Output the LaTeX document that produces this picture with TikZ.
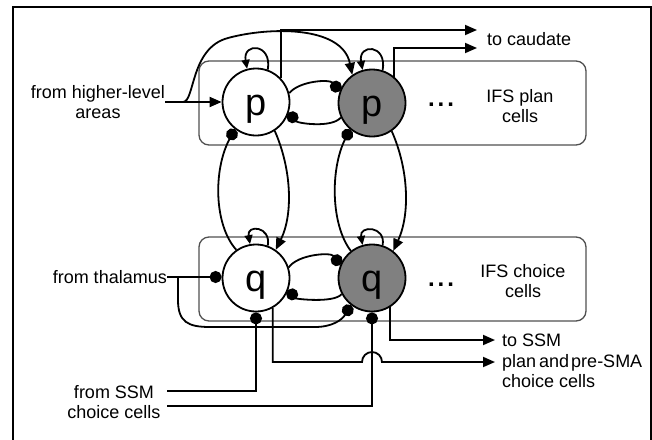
\documentclass[tikz,border=0pt]{standalone}
\usepackage{fontspec}
\setmainfont{Liberation Sans}
\usetikzlibrary{arrows.meta}
\begin{document}
\begin{tikzpicture}[x=1pt,y=-1pt,
  cell/.style={circle, draw, line width=1.8pt, minimum size=67pt, inner sep=0pt, font=\fontsize{38}{40}\selectfont},
  plaincell/.style={cell, fill=white},
  darkcell/.style={cell, fill={rgb,255:red,128;green,128;blue,128}},
  grp/.style={draw={rgb,255:red,80;green,80;blue,80}, line width=1.3pt, rounded corners=10pt, inner sep=0pt},
  lbl/.style={font=\fontsize{18}{20.5}\selectfont, inner sep=0pt},
  ellip/.style={font=\fontsize{24}{24}\bfseries, inner sep=0pt},
  conn/.style={line width=1.8pt},
  exc/.style={conn, -{Triangle[length=12pt,width=10pt]}},
  excs/.style={conn, -{Triangle[length=9pt,width=8pt]}},
  inh/.style={conn, -{Circle[length=12pt]}},
]
\useasboundingbox (0,0) rectangle (652,439);
% outer frame
\draw[line width=2.6pt] (13,445) -- (13,7) -- (651,7) -- (651,445);

% group boxes
\node[grp, minimum width=387pt, minimum height=84pt] (planbox) at (392.5,103) {};
\node[grp, minimum width=387pt, minimum height=84pt] (choicebox) at (392.5,279) {};

% cells
\node[plaincell] (p1) at (256,102) {\smash{\raisebox{-13pt}{p}}};
\node[darkcell]  (p2) at (372,103) {\smash{\raisebox{-13pt}{p}}};
\node[plaincell] (q1) at (256,278) {\smash{\raisebox{-13pt}{q}}};
\node[darkcell]  (q2) at (372,278) {\smash{\raisebox{-13pt}{q}}};

% texts
\node[lbl, align=center] (hl) at (98,102) {from higher-level\\areas};
\node[lbl, anchor=west] (caud) at (487,39) {to caudate};
\node[lbl, align=center] (ifsp) at (520,106) {IFS plan\\cells};
\node[lbl, align=center] (ifsc) at (523,281) {IFS choice\\cells};
\node[ellip, anchor=base] (dotsp) at (441,106) {.\hspace{3pt}.\hspace{3pt}.};
\node[ellip, anchor=base] (dotsc) at (441,286) {.\hspace{3pt}.\hspace{3pt}.};
\node[lbl, anchor=east] (thal) at (167,277) {from thalamus};
\node[lbl, align=center] (ssmin) at (114,402) {from SSM\\choice cells};
\node[lbl, align=left, anchor=west] (outl) at (502,361) {to SSM\\plan\hspace{3pt}and\hspace{2pt}pre-SMA\\choice cells};

% coordinates
\coordinate (hlj) at (183,102);
\coordinate (cau1) at (477,30);
\coordinate (cau2) at (477,48);
\coordinate (thj) at (178,277);
\coordinate (s1) at (167,391);
\coordinate (s2) at (167,406);
\coordinate (o1) at (495,340);
\coordinate (o2) at (495,362);

% input from higher-level areas
\draw[exc] (hl.east) -- (p1);
\draw[exc] (hlj) .. controls (195,102) and (190,48) .. (228,38)
  .. controls (268,27) and (342,25) .. (p2.125);

% to caudate
\draw[exc] (p1.44) |- (cau1);
\draw[exc] (p2.50) |- (cau2);

% self loops
\draw[excs] (p1.70) .. controls +(80:27pt) and +(100:27pt) .. (p1.105);
\draw[excs] (p2.72) .. controls +(80:27pt) and +(100:27pt) .. (p2.106);
\draw[excs] (q1.70) .. controls +(80:20pt) and +(100:20pt) .. (q1.100);
\draw[excs] (q2.72) .. controls +(80:20pt) and +(100:20pt) .. (q2.106);

% lateral inhibition p
\draw[inh] (p1.15) .. controls +(50:16pt) and +(130:16pt) .. (p2.160);
\draw[inh] (p2.205) .. controls +(-130:14pt) and +(-50:14pt) .. (p1.-18);
% lateral inhibition q
\draw[inh] (q1.18) .. controls +(55:16pt) and +(125:16pt) .. (q2.158);
\draw[inh] (q2.208) .. controls +(-130:12pt) and +(-50:12pt) .. (q1.-20);

% vertical loops
\draw[inh] (q1.125) .. controls (214,225) and (213,170) .. (p1.232);
\draw[exc] (p1.-57) .. controls (292,170) and (293,215) .. (q1.55);
\draw[inh] (q2.128) .. controls (331,225) and (330,170) .. (p2.230);
\draw[exc] (p2.-55) .. controls (409,170) and (410,215) .. (q2.52);

% thalamus
\draw[inh] (thal.east) -- (thal.east -| q1.west);
\draw[inh] (thj) -- (178,300) .. controls (178,322) and (188,327) .. (210,327)
  -- (315,327) .. controls (332,327) and (342,320) .. (q2.232);

% SSM choice input
\draw[inh] (s1) -| (q1.south);
\draw[inh] (s2) -| (q2.south);

% outputs
\draw[exc] (q2.-58) |- (o1);
\draw[exc] (q1.-61) |- (362,362) arc[start angle=180,end angle=0,radius=10pt] -- (o2);
\end{tikzpicture}
\end{document}
